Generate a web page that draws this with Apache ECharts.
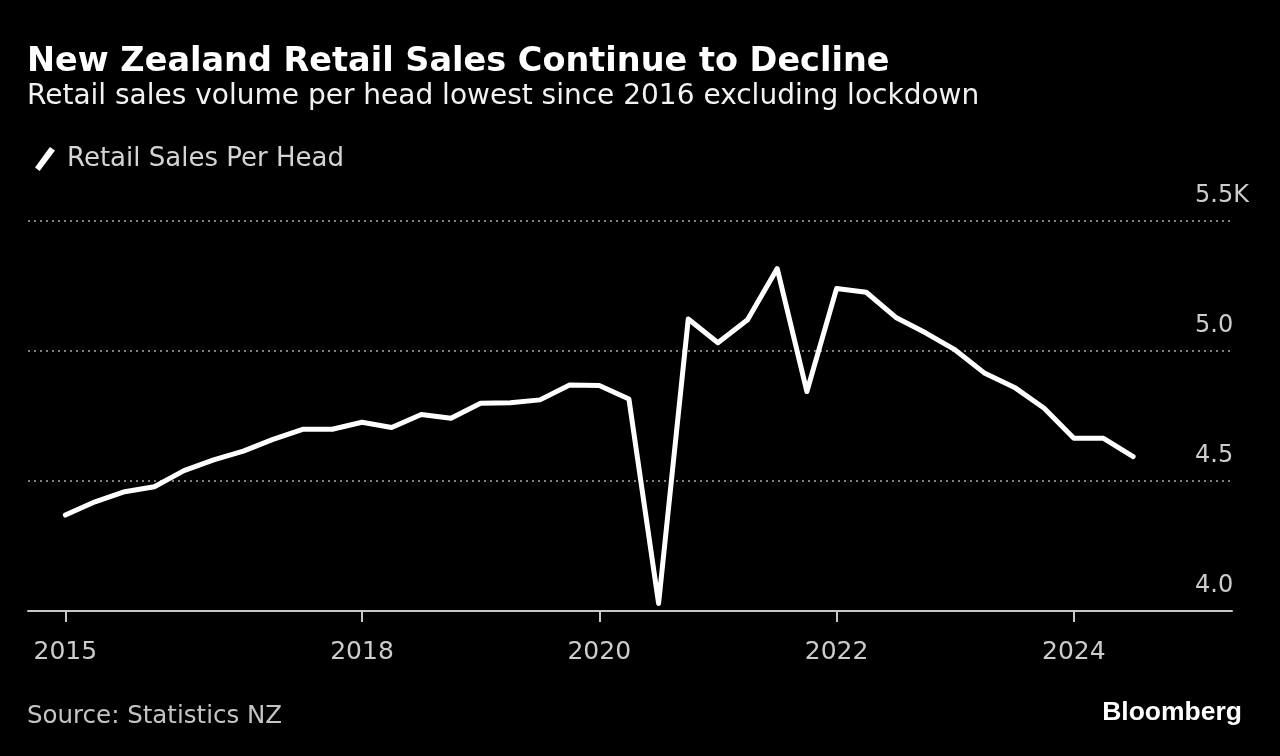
<!DOCTYPE html>
<html>
<head>
<meta charset="utf-8">
<title>New Zealand Retail Sales Continue to Decline</title>
<script src="https://cdn.jsdelivr.net/npm/echarts@6/dist/echarts.min.js"></script>
<style>
  html, body { margin: 0; padding: 0; background: #000; }
  #chart { width: 1280px; height: 756px; }
</style>
</head>
<body>
<div id="chart"></div>
<script>
// ---- Data ----
const quarters = [
  '2015-06','2015-09','2015-12','2016-03','2016-06','2016-09','2016-12',
  '2017-03','2017-06','2017-09','2017-12','2018-03','2018-06','2018-09','2018-12',
  '2019-03','2019-06','2019-09','2019-12','2020-03','2020-06','2020-09','2020-12',
  '2021-03','2021-06','2021-09','2021-12','2022-03','2022-06','2022-09','2022-12',
  '2023-03','2023-06','2023-09','2023-12','2024-03','2024-06'
];
// Retail sales volume per head, thousands
const salesPerHead = [
  4.369, 4.420, 4.459, 4.478, 4.540, 4.581, 4.615,
  4.660, 4.699, 4.699, 4.726, 4.706, 4.756, 4.741, 4.799,
  4.801, 4.812, 4.869, 4.867, 4.815, 4.029, 5.123, 5.032,
  5.120, 5.317, 4.844, 5.240, 5.226, 5.129, 5.070, 5.004,
  4.914, 4.860, 4.780, 4.664, 4.664, 4.594
];
const xTickQuarters = ['2015-06', '2017-12', '2019-12', '2021-12', '2023-12'];
const xTickLabels = ['2015', '2018', '2020', '2022', '2024'];
const yTickValues = [4.0, 4.5, 5.0, 5.5];
const yTickLabels = ['4.0', '4.5', '5.0', '5.5K'];
const seriesName = 'Retail Sales Per Head';

// quarter "YYYY-MM" (quarter-end month) -> decimal year
function toYear(q) {
  const y = +q.slice(0, 4), m = +q.slice(5, 7);
  return y + m / 12;
}
const points = quarters.map((q, i) => [toYear(q), salesPerHead[i]]);
const xTickValues = xTickQuarters.map(toYear);

const FONT = "'DejaVu Sans', 'Noto Sans', sans-serif";
const chart = echarts.init(document.getElementById('chart'), null, { renderer: 'canvas' });

chart.setOption({
  backgroundColor: '#000000',
  animation: false,
  textStyle: { fontFamily: FONT },
  grid: {
    left: 28, right: 48, top: 221, bottom: 145,
    containLabel: false,
    outerBoundsMode: 'none'
  },
  legend: {
    data: [{ name: seriesName, icon: 'path://M0,20.3 L14.5,0.3 L19.5,3.7 L4.5,23.7 Z' }],
    left: 30, top: 141,
    itemWidth: 20, itemHeight: 24,
    selectedMode: false,
    textStyle: { color: '#d4d4d4', fontSize: 26, fontFamily: FONT, padding: [0, 0, 0, 7] }
  },
  xAxis: {
    type: 'value',
    min: 2015.185,
    max: 2025.333,
    splitLine: { show: false },
    axisLine: { show: true, lineStyle: { color: '#c8c8c8', width: 2 } },
    axisTick: {
      show: true, customValues: xTickValues, length: 11,
      lineStyle: { color: '#c8c8c8', width: 2 }
    },
    axisLabel: {
      customValues: xTickValues,
      margin: 29,
      color: '#cccccc',
      fontSize: 25,
      fontFamily: FONT,
      formatter: function (v) {
        let best = 0, d = Infinity;
        xTickValues.forEach((t, i) => { if (Math.abs(t - v) < d) { d = Math.abs(t - v); best = i; } });
        return xTickLabels[best];
      }
    }
  },
  yAxis: {
    type: 'value',
    position: 'right',
    min: 4.0, max: 5.5, interval: 0.5,
    axisLine: { show: false },
    axisTick: { show: false },
    splitLine: { show: true, lineStyle: { color: '#808080', width: 2, type: [2, 4] } },
    axisLabel: {
      inside: false,
      margin: -37,
      align: 'left',
      verticalAlign: 'bottom',
      padding: [0, 0, 13, 0],
      color: '#cccccc',
      fontSize: 24,
      fontFamily: FONT,
      formatter: function (v) {
        const i = yTickValues.findIndex(t => Math.abs(t - v) < 1e-6);
        return i >= 0 ? yTickLabels[i] : '';
      }
    }
  },
  series: [{
    name: seriesName,
    type: 'line',
    data: points,
    showSymbol: false,
    symbol: 'none',
    silent: true,
    color: '#ffffff',
    lineStyle: { color: '#ffffff', width: 5, join: 'round', cap: 'round' }
  }],
  graphic: [
    {
      type: 'text', x: 27, y: 62,
      style: {
        text: 'New Zealand Retail Sales Continue to Decline',
        fill: '#ffffff', font: "bold 33.5px " + FONT,
        textAlign: 'left', textVerticalAlign: 'middle', align: 'left', verticalAlign: 'middle'
      }
    },
    {
      type: 'text', x: 27, y: 97,
      style: {
        text: 'Retail sales volume per head lowest since 2016 excluding lockdown',
        fill: '#f2f2f2', font: "28px " + FONT,
        textAlign: 'left', textVerticalAlign: 'middle', align: 'left', verticalAlign: 'middle'
      }
    },
    {
      type: 'text', x: 27, y: 717,
      style: {
        text: 'Source: Statistics NZ',
        fill: '#c4c4c4', font: "24.5px " + FONT,
        textAlign: 'left', textVerticalAlign: 'middle', align: 'left', verticalAlign: 'middle'
      }
    },
    {
      type: 'text', x: 1242, y: 713,
      style: {
        text: 'Bloomberg',
        fill: '#ffffff', font: "bold 26.5px 'Liberation Sans', Arial, sans-serif",
        textAlign: 'right', textVerticalAlign: 'middle', align: 'right', verticalAlign: 'middle'
      }
    }
  ]
});
</script>
</body>
</html>
